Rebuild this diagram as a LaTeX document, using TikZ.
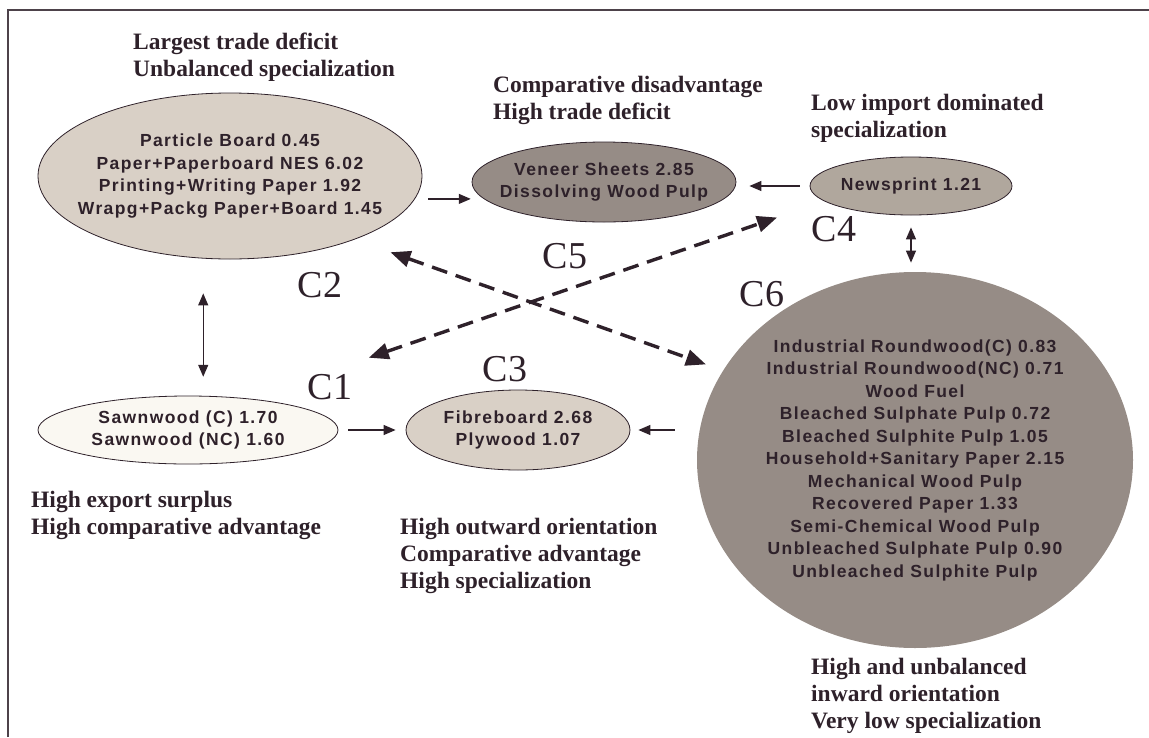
\documentclass[tikz,border=0pt]{standalone}
\usepackage{fontspec}
\setmainfont{Liberation Serif}
\newfontfamily\itemfont[LetterSpace=8]{Liberation Sans}
\usetikzlibrary{arrows.meta,shapes.geometric}

\definecolor{ink}{RGB}{46,33,42}
\definecolor{pale}{RGB}{250,248,242}
\definecolor{sand}{RGB}{217,208,198}
\definecolor{stone}{RGB}{176,167,157}
\definecolor{slate}{RGB}{150,140,134}

\begin{document}
\begin{tikzpicture}[x=1pt, y=1pt,
            >={Triangle[length=12pt,width=10pt]},
            cluster/.style={ellipse, draw=ink, line width=0.8pt, inner xsep=-50pt,
                inner ysep=0pt, align=center, text=ink,
                font=\itemfont\bfseries\fontsize{17.5}{22.5}\selectfont},
            remark/.style={anchor=west, align=left, inner sep=0pt, text=ink,
                font=\bfseries\fontsize{23.5}{27}\selectfont},
            tag/.style={inner sep=0pt, text=ink, font=\fontsize{38}{40}\selectfont},
            flow/.style={->, draw=ink, line width=1.2pt},
            both/.style={<->, draw=ink, line width=1.2pt},
            link/.style={<->, draw=ink, line width=3.4pt, dash pattern=on 16pt off 9pt,
                >={Triangle[length=20pt,width=16pt]}}]

        \useasboundingbox (0,0) rectangle (1149,-737);
        \draw[ink!85, line width=2pt] (8,-737) -- (8,-10) -- (1149,-10);

        % groups
        \node[cluster, fill=sand, minimum width=384pt, minimum height=166pt] (c2) at (230,-176)
            {Particle Board 0.45\\Paper+Paperboard NES 6.02\\Printing+Writing Paper 1.92\\Wrapg+Packg Paper+Board 1.45};
        \node[cluster, fill=slate, minimum width=264pt, minimum height=80pt] (c5) at (604,-182)
            {Veneer Sheets 2.85\\Dissolving Wood Pulp};
        \node[cluster, fill=stone, minimum width=202pt, minimum height=58pt] (c4) at (911,-186)
            {Newsprint 1.21};
        \node[cluster, fill=pale, minimum width=300pt, minimum height=68pt] (c1) at (188,-430)
            {Sawnwood (C) 1.70\\Sawnwood (NC) 1.60};
        \node[cluster, fill=sand, minimum width=224pt, minimum height=80pt] (c3) at (518,-430)
            {Fibreboard 2.68\\Plywood 1.07};
        \node[cluster, draw=none, fill=slate, minimum width=436pt, minimum height=376pt] (c6) at (915,-460)
            {Industrial Roundwood(C) 0.83\\Industrial Roundwood(NC) 0.71\\Wood Fuel\\
             Bleached Sulphate Pulp 0.72\\Bleached Sulphite Pulp 1.05\\Household+Sanitary Paper 2.15\\
             Mechanical Wood Pulp\\Recovered Paper 1.33\\Semi-Chemical Wood Pulp\\
             Unbleached Sulphate Pulp 0.90\\Unbleached Sulphite Pulp};

        % group tags
        \node[tag] (t1) at (330,-387) {C1};
        \node[tag] (t2) at (320,-285) {C2};
        \node[tag] (t3) at (505,-369) {C3};
        \node[tag] (t4) at (834,-229) {C4};
        \node[tag] (t5) at (565,-256) {C5};
        \node[tag] (t6) at (762,-294) {C6};

        % remarks
        \node[remark] (r2) at (133,-57)  {Largest trade deficit\\Unbalanced specialization};
        \node[remark] (r5) at (493,-100) {Comparative disadvantage\\High trade deficit};
        \node[remark] (r4) at (811,-118) {Low import dominated\\specialization};
        \node[remark] (r1) at (31,-515)  {High export surplus\\High comparative advantage};
        \node[remark] (r3) at (400,-556) {High outward orientation\\Comparative advantage\\High specialization};
        \node[remark] (r6) at (811,-696) {High and unbalanced\\inward orientation\\Very low specialization};

        % links
        \draw[flow, shorten <=6pt, shorten >=13pt] (c5.-172.5 -| c2.east) -- (c5.-172.5);
        \draw[flow, shorten <=10pt, shorten >=13pt] (c4.west) -- (c4.west -| c5.east);
        \draw[both, shorten <=12pt, shorten >=9pt] (c4.south) -- (c4.south |- c6.north);
        \draw[both, shorten <=19pt, shorten >=34pt] (c1.66.1) -- (c2.south -| c1.66.1);
        \draw[flow, shorten <=10pt, shorten >=10pt] (c1) -- (c3);
        \draw[flow, shorten <=22pt, shorten >=8pt] (c3.east -| c6.west) -- (c3.east);
        \draw[link, shorten <=38pt, shorten >=18pt] (c2.-27.7) -- (c6.155.7);
        \draw[link, shorten <=126pt, shorten >=50pt] (c1.27) -- (c4.-170);

\end{tikzpicture}
\end{document}
